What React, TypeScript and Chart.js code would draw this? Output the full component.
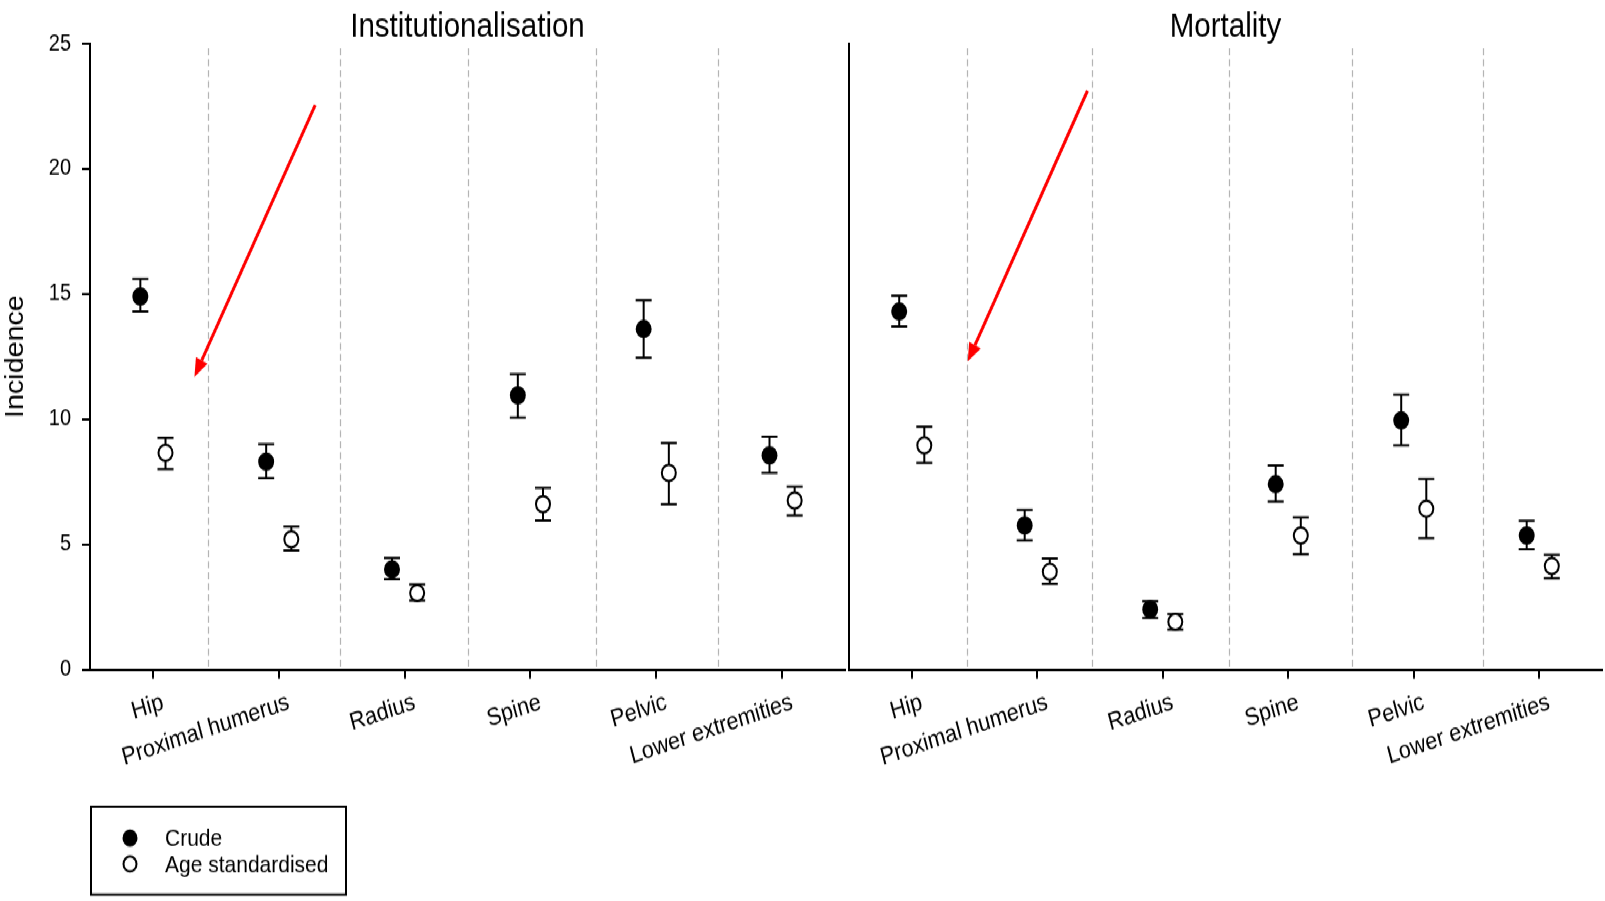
import { useEffect, useRef } from 'react';
import { Chart, registerables } from 'chart.js';

Chart.register(...registerables);

// Fracture sites shown on both panels
const categories = ['Hip', 'Proximal humerus', 'Radius', 'Spine', 'Pelvic', 'Lower extremities'];
const yTickValues = [0, 5, 10, 15, 20, 25];

// Institutionalisation: estimate with 95% CI
const instCrude = [14.9, 8.3, 4.0, 10.95, 13.6, 8.55];
const instCrudeLow = [14.3, 7.65, 3.6, 10.05, 12.45, 7.85];
const instCrudeHigh = [15.6, 9.0, 4.45, 11.8, 14.75, 9.3];
const instAge = [8.65, 5.2, 3.05, 6.6, 7.85, 6.75];
const instAgeLow = [8.0, 4.75, 2.75, 5.95, 6.6, 6.15];
const instAgeHigh = [9.25, 5.7, 3.4, 7.25, 9.05, 7.3];

// Mortality: estimate with 95% CI
const mortCrude = [14.3, 5.75, 2.4, 7.4, 9.95, 5.35];
const mortCrudeLow = [13.7, 5.15, 2.05, 6.7, 8.95, 4.8];
const mortCrudeHigh = [14.93, 6.37, 2.72, 8.15, 10.97, 5.94];
const mortAge = [8.95, 3.9, 1.9, 5.35, 6.42, 4.13];
const mortAgeLow = [8.25, 3.42, 1.6, 4.6, 5.24, 3.64];
const mortAgeHigh = [9.7, 4.43, 2.21, 6.07, 7.61, 4.58];

// Dashed separators between sites (in x-axis units)
const instDividers = [1.44, 2.49, 3.5, 4.52, 5.49];
const mortDividers = [1.44, 2.44, 3.53, 4.51, 5.55];

// Red pointer arrows: [tail, head] in axis units
const instArrow = [[2.29, 22.55], [1.33, 11.69]];
const mortArrow = [[2.4, 23.12], [1.446, 12.3]];

const FONT = "'Liberation Sans', Arial, Helvetica, sans-serif";
const PAGE_W = 1605;
const PAGE_H = 901;
const INNER_H = 784;
const SY = PAGE_H / INNER_H;
const PAIR_OFFSET = 0.1;

type PanelProps = {
  title: string;
  crude: number[];
  crudeLow: number[];
  crudeHigh: number[];
  age: number[];
  ageLow: number[];
  ageHigh: number[];
  dividers: number[];
  arrow: number[][];
  showYAxis: boolean;
  showLegend: boolean;
  left: number;
  width: number;
  padRight: number;
};

function Panel(p: PanelProps) {
  const ref = useRef<HTMLCanvasElement | null>(null);

  useEffect(() => {
    const canvas = ref.current;
    if (!canvas) return;

    const lows = [p.crudeLow, p.ageLow];
    const highs = [p.crudeHigh, p.ageHigh];

    const decorations = {
      id: 'decorations',
      beforeDatasetsDraw(chart: any) {
        const { ctx, chartArea, scales } = chart;
        const xs = scales.x;
        const ys = scales.y;
        ctx.save();
        // dashed site separators
        ctx.strokeStyle = '#b4b4b4';
        ctx.lineWidth = 1.2;
        ctx.setLineDash([6, 3.5]);
        p.dividers.forEach((d) => {
          const x = Math.round(xs.getPixelForValue(d)) + 0.5;
          ctx.beginPath();
          ctx.moveTo(x, chartArea.top + 4);
          ctx.lineTo(x, chartArea.bottom);
          ctx.stroke();
        });
        ctx.setLineDash([]);
        // confidence interval bars
        ctx.strokeStyle = '#000';
        ctx.lineWidth = 2;
        chart.data.datasets.forEach((ds: any, di: number) => {
          ds.data.forEach((pt: any, i: number) => {
            const x = xs.getPixelForValue(pt.x);
            const yl = ys.getPixelForValue(lows[di][i]);
            const yh = ys.getPixelForValue(highs[di][i]);
            ctx.beginPath();
            ctx.moveTo(x, yl);
            ctx.lineTo(x, yh);
            ctx.moveTo(x - 8, yl);
            ctx.lineTo(x + 8, yl);
            ctx.moveTo(x - 8, yh);
            ctx.lineTo(x + 8, yh);
            ctx.stroke();
          });
        });
        ctx.restore();
      },
      afterDraw(chart: any) {
        const { ctx, chartArea, scales } = chart;
        const xs = scales.x;
        const ys = scales.y;
        ctx.save();
        // panel title
        ctx.fillStyle = '#000';
        ctx.font = `29.5px ${FONT}`;
        ctx.textAlign = 'center';
        ctx.textBaseline = 'middle';
        ctx.fillText(p.title, (chartArea.left + chartArea.right) / 2, chartArea.top - 14);

        // red arrow
        const x0 = xs.getPixelForValue(p.arrow[0][0]);
        const y0 = ys.getPixelForValue(p.arrow[0][1]);
        const x1 = xs.getPixelForValue(p.arrow[1][0]);
        const y1 = ys.getPixelForValue(p.arrow[1][1]);
        const ang = Math.atan2(y1 - y0, x1 - x0);
        const headLen = 16;
        const headHalf = 6.5;
        const bx = x1 - headLen * Math.cos(ang);
        const by = y1 - headLen * Math.sin(ang);
        ctx.strokeStyle = '#ff0000';
        ctx.fillStyle = '#ff0000';
        ctx.lineWidth = 3;
        ctx.beginPath();
        ctx.moveTo(x0, y0);
        ctx.lineTo(bx, by);
        ctx.stroke();
        ctx.beginPath();
        ctx.moveTo(x1, y1);
        ctx.lineTo(bx + headHalf * Math.sin(ang), by - headHalf * Math.cos(ang));
        ctx.lineTo(bx - headHalf * Math.sin(ang), by + headHalf * Math.cos(ang));
        ctx.closePath();
        ctx.fill();

        // legend box
        if (p.showLegend) {
          ctx.strokeStyle = '#000';
          ctx.lineWidth = 2;
          ctx.strokeRect(91, 702, 255, 76.5);
          const items = [
            { label: 'Crude', fill: '#000', y: 729.2 },
            { label: 'Age standardised', fill: '#fff', y: 751.8 },
          ];
          items.forEach((it) => {
            ctx.beginPath();
            ctx.arc(130, it.y, 6.5, 0, Math.PI * 2);
            ctx.fillStyle = it.fill;
            ctx.fill();
            ctx.lineWidth = 2;
            ctx.strokeStyle = '#000';
            ctx.stroke();
            ctx.fillStyle = '#000';
            ctx.font = `21px ${FONT}`;
            ctx.textAlign = 'left';
            ctx.textBaseline = 'middle';
            ctx.fillText(it.label, 165, it.y + 1);
          });
        }
        ctx.restore();
      },
    };

    const chart = new Chart(canvas, {
      type: 'scatter',
      data: {
        datasets: [
          {
            label: 'Crude',
            data: p.crude.map((v, i) => ({ x: i + 1 - PAIR_OFFSET, y: v })),
            pointRadius: 7,
            pointBackgroundColor: '#000',
            pointBorderColor: '#000',
            pointBorderWidth: 2,
          },
          {
            label: 'Age standardised',
            data: p.age.map((v, i) => ({ x: i + 1 + PAIR_OFFSET, y: v })),
            pointRadius: 7,
            pointBackgroundColor: '#fff',
            pointBorderColor: '#000',
            pointBorderWidth: 2,
          },
        ],
      },
      options: {
        animation: false,
        responsive: false,
        maintainAspectRatio: false,
        layout: { padding: { top: 38, right: p.padRight, left: 0, bottom: 0 } },
        plugins: {
          legend: { display: false },
          tooltip: { enabled: false },
          title: { display: false },
        },
        scales: {
          x: {
            type: 'linear',
            position: 'bottom',
            min: 0.5,
            max: 6.5,
            afterBuildTicks: (s: any) => {
              s.ticks = categories.map((_, i) => ({ value: i + 1 }));
            },
            afterFit: (s: any) => {
              s.height = INNER_H - 582.5;
            },
            ticks: {
              autoSkip: false,
              minRotation: 16.5,
              maxRotation: 16.5,
              labelOffset: 10,
              padding: 8,
              color: '#000',
              font: { size: 21.5, family: FONT },
              callback: (_v: any, i: number) => categories[i] ?? '',
            },
            grid: { drawOnChartArea: false, drawTicks: true, tickLength: 8, color: '#000', lineWidth: 2 },
            border: { display: true, color: '#000', width: 2 },
          },
          y: {
            min: 0,
            max: 25,
            afterBuildTicks: (s: any) => {
              s.ticks = yTickValues.map((v) => ({ value: v }));
            },
            afterFit: (s: any) => {
              s.width = p.showYAxis ? 90 : 1;
            },
            ticks: {
              display: p.showYAxis,
              padding: 11,
              color: '#000',
              font: { size: 20, family: FONT },
            },
            grid: p.showYAxis
              ? { drawOnChartArea: false, drawTicks: true, tickLength: 8, color: '#000', lineWidth: 2 }
              : { display: false },
            border: { display: true, color: '#000', width: 2 },
            title: {
              display: p.showYAxis,
              text: 'Incidence',
              color: '#000',
              font: { size: 25, family: FONT },
              padding: { top: 1, bottom: 0 },
            },
          },
        },
      },
      plugins: [decorations],
    } as any);

    return () => chart.destroy();
  }, []);

  return (
    <canvas
      ref={ref}
      width={p.width}
      height={INNER_H}
      style={{ position: 'absolute', left: p.left, top: 0, width: p.width, height: INNER_H }}
    />
  );
}

export default function App() {
  return (
    <div
      style={{
        position: 'absolute',
        left: 0,
        top: 0,
        width: PAGE_W,
        height: PAGE_H,
        overflow: 'hidden',
        background: '#fff',
      }}
    >
      <div
        style={{
          position: 'absolute',
          left: 0,
          top: 0,
          width: PAGE_W,
          height: INNER_H,
          transform: `scaleY(${SY})`,
          transformOrigin: '0 0',
        }}
      >
        <Panel
          title="Institutionalisation"
          crude={instCrude}
          crudeLow={instCrudeLow}
          crudeHigh={instCrudeHigh}
          age={instAge}
          ageLow={instAgeLow}
          ageHigh={instAgeHigh}
          dividers={instDividers}
          arrow={instArrow}
          showYAxis={true}
          showLegend={true}
          left={0}
          width={854}
          padRight={1}
        />
        <Panel
          title="Mortality"
          crude={mortCrude}
          crudeLow={mortCrudeLow}
          crudeHigh={mortCrudeHigh}
          age={mortAge}
          ageLow={mortAgeLow}
          ageHigh={mortAgeHigh}
          dividers={mortDividers}
          arrow={mortArrow}
          showYAxis={false}
          showLegend={false}
          left={840}
          width={771}
          padRight={0}
        />
      </div>
    </div>
  );
}
